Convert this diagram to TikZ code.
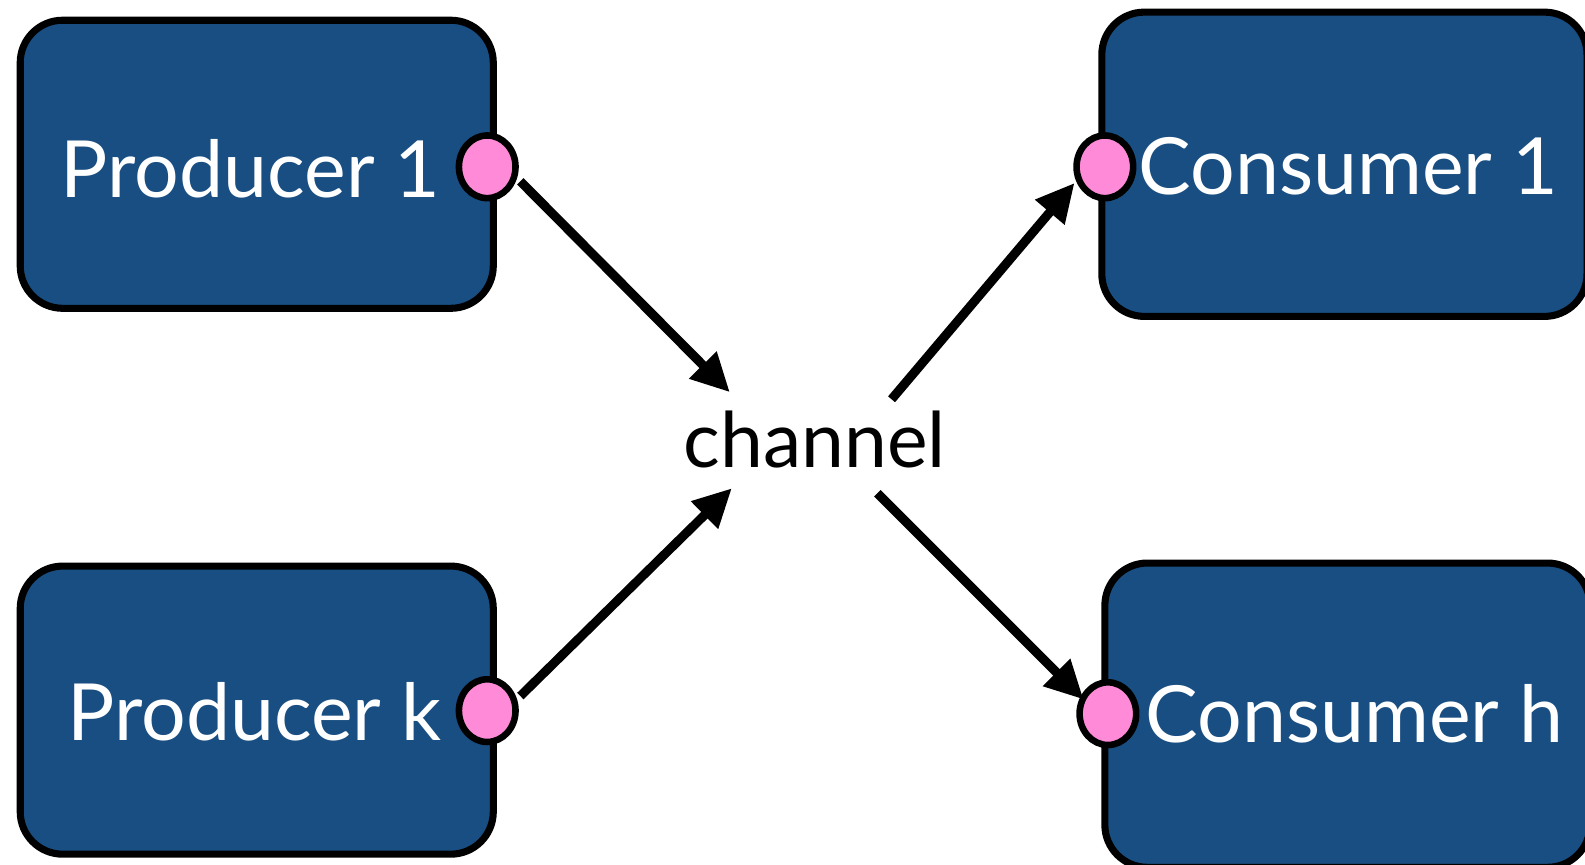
\documentclass[tikz,border=0pt]{standalone}
\usepackage{fontspec}
\setmainfont{Lato}
\usetikzlibrary{shapes.geometric,arrows.meta}
\definecolor{boxblue}{RGB}{25,78,130}
\definecolor{portpink}{RGB}{255,138,216}
\tikzset{
  procbox/.style={draw=black, line width=7pt, fill=boxblue, rounded corners=42pt, inner sep=0pt},
  boxlabel/.style={text=white, font=\fontsize{78}{82}\selectfont, anchor=base, inner sep=0pt},
  port/.style={ellipse, draw=black, line width=6.5pt, fill=portpink, minimum width=56pt, minimum height=62pt, inner sep=0pt},
  flow/.style={line width=9pt, -{Triangle[length=38pt,width=36pt]}}
}
\begin{document}
\begin{tikzpicture}[x=1pt,y=-1pt]
\useasboundingbox (0,0) rectangle (1568,855);
\clip (0,0) rectangle (1568,855);
% boxes
\node[procbox, minimum width=468pt, minimum height=285pt] (p1) at (254,162.5) {};
\node[procbox, minimum width=468pt, minimum height=285pt] (pk) at (254,702.5) {};
\node[procbox, minimum width=480pt, minimum height=301pt] (c1) at (1330,162.5) {};
\node[procbox, minimum width=480pt, minimum height=301pt] (ch) at (1333,707.5) {};
% labels
\node[boxlabel] (p1t) at (248,195) {Producer 1};
\node[boxlabel] (pkt) at (252,733) {Producer k};
\node[boxlabel] (c1t) at (1334,192) {Consumer 1};
\node[boxlabel] (cht) at (1340,735) {Consumer h};
% ports
\node[port] (p1c) at (482,165) {};
\node[port] (pkc) at (482,703) {};
\node[port] (c1c) at (1093,165) {};
\node[port] (chc) at (1096,706) {};
% channel
\node[font=\fontsize{76}{80}\selectfont, anchor=base, inner sep=0pt] (chan) at (806,462) {channel};
\coordinate (in1) at (722,388);
\coordinate (in2) at (724,483);
\coordinate (out1) at (882,395);
\coordinate (out2) at (868,488);
\coordinate (c1in) at (1063,181);
\coordinate (chin) at (1072,692);
% connectors
\draw[flow] ([shift={(4pt,-1pt)}]p1c.-25) -- (in1);
\draw[flow] ([shift={(4pt,1pt)}]pkc.25) -- (in2);
\draw[flow] (out1) -- (c1in);
\draw[flow] (out2) -- (chin);
\end{tikzpicture}
\end{document}
